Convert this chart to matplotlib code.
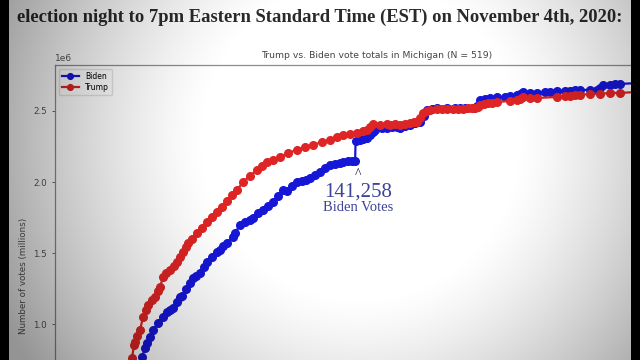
import numpy as np
import matplotlib
matplotlib.use('Agg')
import matplotlib.pyplot as plt

# hours after 8pm election night, vote totals in thousands
trump_hours = [1.68, 1.88, 1.95, 1.99, 2.07, 2.19, 2.31, 2.43, 2.50, 2.66, 2.78, 2.90, 2.98, 3.09,
               3.21, 3.37, 3.53, 3.64, 3.76, 3.88, 4.00, 4.08, 4.23, 4.43, 4.63, 4.82, 5.02, 5.22,
               5.41, 5.61, 5.80, 6.00, 6.24, 6.51, 6.79, 6.98, 7.18, 7.42, 7.69, 8.01, 8.36, 8.67,
               8.99, 9.34, 9.66, 9.93, 10.17, 10.44, 10.72, 10.95, 11.11, 11.23, 11.35, 11.62,
               11.90, 12.01, 12.21, 12.41, 12.60, 12.80, 12.96, 13.07, 13.19, 13.31, 13.47, 13.59,
               13.86, 14.06, 14.25, 14.49, 14.69, 14.88, 15.08, 15.24, 15.35, 15.47, 15.55, 15.71,
               15.86, 16.02, 16.22, 16.73, 17.00, 17.12, 17.24, 17.51, 17.79, 18.58, 18.89, 19.09,
               19.28, 19.48, 19.87, 20.26, 20.66, 21.05, 21.84, 22.62]
trump_votes = [679, 763, 855, 876, 918, 960, 1051, 1101, 1136, 1171, 1192, 1234, 1262, 1333,
               1361, 1382, 1410, 1438, 1473, 1508, 1544, 1572, 1600, 1642, 1677, 1719, 1755, 1790,
               1825, 1867, 1909, 1944, 2001, 2043, 2085, 2113, 2141, 2155, 2177, 2205, 2226, 2247,
               2261, 2282, 2296, 2317, 2331, 2338, 2345, 2359, 2366, 2387, 2409, 2402,
               2409, 2402, 2409, 2402, 2409, 2416, 2423, 2423, 2451, 2486, 2500, 2507,
               2514, 2514, 2514, 2514, 2514, 2514, 2521, 2521, 2521, 2528, 2542, 2549,
               2556, 2556, 2563, 2570, 2577, 2584, 2598, 2591, 2591, 2598, 2605, 2605,
               2613, 2613, 2620, 2620, 2627, 2627, 2634, 2634]

biden_hours = [2.03, 2.27, 2.39, 2.47, 2.58, 2.70, 2.90, 3.09, 3.25, 3.37, 3.49, 3.64, 3.76, 3.84,
               4.00, 4.15, 4.27, 4.39, 4.55, 4.70, 4.82, 5.02, 5.22, 5.33, 5.45, 5.61, 5.84, 5.92,
               6.12, 6.32, 6.51, 6.63, 6.83, 7.02, 7.22, 7.42, 7.61, 7.81, 7.97, 8.16, 8.36, 8.56,
               8.71, 8.87, 9.07, 9.26, 9.46, 9.66, 9.85, 10.05, 10.17, 10.36, 10.52, 10.64, 10.66,
               10.83, 10.95, 11.11, 11.23, 11.35, 11.42, 11.50, 11.70, 11.90, 12.09, 12.29, 12.41,
               12.60, 12.80, 13.00, 13.19, 13.35, 13.47, 13.66, 13.86, 14.25, 14.57, 14.76, 14.96,
               15.27, 15.43, 15.55, 15.75, 15.94, 16.22, 16.53, 16.73, 17.00, 17.12, 17.24, 17.51,
               17.79, 18.10, 18.30, 18.58, 18.89, 19.09, 19.28, 19.48, 19.87, 20.15, 20.26, 20.38,
               20.66, 20.85, 21.05, 21.84, 22.62]
biden_votes = [679, 770, 833, 869, 911, 960, 1009, 1051, 1087, 1101, 1115, 1157, 1192, 1199,
               1248, 1290, 1326, 1340, 1361, 1403, 1438, 1473, 1508, 1523, 1551, 1572, 1614, 1642,
               1698, 1719, 1734, 1748, 1783, 1804, 1832, 1860, 1902, 1944, 1937, 1973, 2001, 2008,
               2015, 2029, 2050, 2071, 2099, 2120, 2127, 2134, 2141, 2148, 2148, 2150, 2291,
               2296, 2303, 2310, 2331, 2352, 2366, 2387, 2380, 2380, 2387, 2387, 2380,
               2395, 2402, 2416, 2423, 2465, 2507, 2514, 2521, 2521, 2521, 2521, 2521,
               2521, 2535, 2577, 2584, 2591, 2598, 2598, 2605, 2613, 2620, 2634, 2627,
               2627, 2634, 2634, 2641, 2641, 2641, 2648, 2648, 2648, 2648, 2662, 2683,
               2683, 2690, 2690, 2697, 2697]

y_ticks = [1000000, 1500000, 2000000, 2500000]
spike_hour = 10.66
spike_label = '141,258'

trump = np.array(trump_votes) * 1000
biden = np.array(biden_votes) * 1000

fig = plt.figure(figsize=(6.4, 3.6), dpi=100)
fig.patch.set_facecolor('white')

# chart is a cropped screenshot: axes runs past the bottom and right edges
ax = fig.add_axes([55 / 640, -126 / 360, 644 / 640, 421 / 360])
ax.plot(biden_hours, biden, color='#1616d6', marker='o', markersize=5.5, linewidth=1.6, label='Biden')
ax.plot(trump_hours, trump, color='#de2424', marker='o', markersize=5.5, linewidth=1.6, label='Trump')
ax.set_xlim(-1.15, 24.15)
ax.set_ylim(-137000, 2823000)
ax.set_yticks(y_ticks)
ax.set_xticks([])
ax.tick_params(axis='y', labelsize=6.3, colors='#555555', length=2.5, width=0.6)
ax.yaxis.get_offset_text().set_fontsize(6.5)
ax.yaxis.get_offset_text().set_color('#555555')
for s in ax.spines.values():
    s.set_color('#8c8c8c')
    s.set_linewidth(0.9)
ax.set_title('Trump vs. Biden vote totals in Michigan (N = 519)', fontsize=6.7, color='#444444', pad=5)
ax.set_ylabel('Number of votes (millions)', fontsize=6.3, color='#555555')
ax.yaxis.set_label_coords(-27 / 644, 0.5)
ax.legend(loc='upper left', fontsize=5.5, handlelength=2.2, borderpad=0.4, labelspacing=0.3,
          frameon=True, framealpha=0.8, edgecolor='#dddddd', markerscale=0.75)

# annotation under the overnight jump
navy = '#3d4396'
ax.text(spike_hour + 0.1, 2050000, '^', ha='center', va='center', fontsize=10,
        color='#222244', family='Liberation Serif')
ax.text(spike_hour + 0.1, 1932000, spike_label, ha='center', va='center', fontsize=15,
        color=navy, family='Liberation Serif')
ax.text(spike_hour + 0.1, 1822000, 'Biden Votes', ha='center', va='center', fontsize=10.5,
        color=navy, family='Liberation Serif')

fig.text(0.5, 1 - 17 / 360, 'election night to 7pm Eastern Standard Time (EST) on November 4th, 2020:',
         ha='center', va='center', fontsize=13.4, color='#2a2a2a', family='Liberation Serif',
         fontweight='bold')

# vignette + black borders of the screenshot
h, w = 360, 640
yy, xx = np.mgrid[0:h, 0:w]
r = np.sqrt(((xx - 360) / 340.0) ** 2 + ((yy - 140) / 340.0) ** 2)
alpha = 0.33 * np.clip((r - 0.45) / 0.6, 0, None) ** 1.3
alpha = np.clip(alpha, 0, 0.42)
alpha[:, :9] = 1.0
alpha[:, 631:] = 1.0
rgba = np.zeros((h, w, 4))
rgba[..., 3] = alpha
ov = fig.add_axes([0, 0, 1, 1], zorder=10)
ov.imshow(rgba, aspect='auto', interpolation='bilinear')
ov.axis('off')

fig.savefig('out.png', dpi=100)
